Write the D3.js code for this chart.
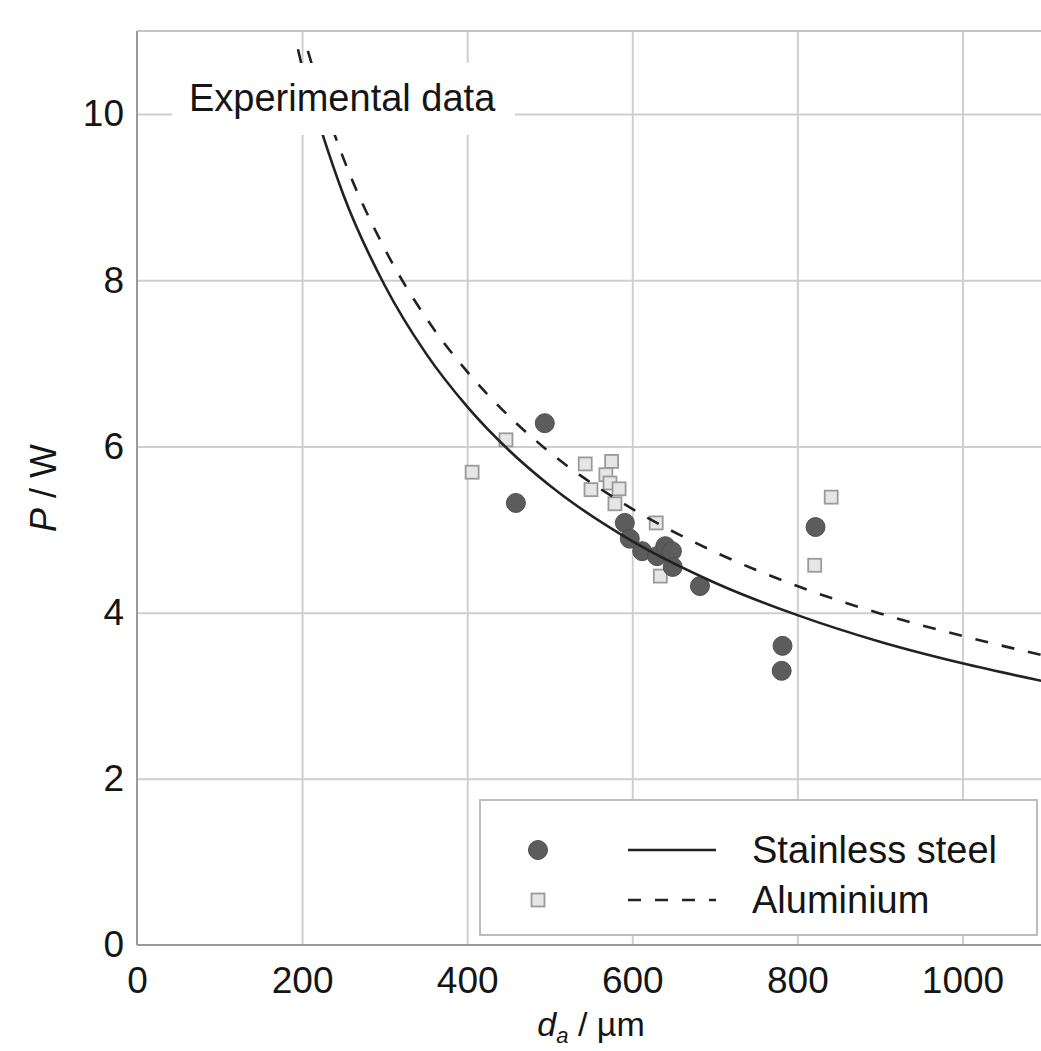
<!DOCTYPE html>
<html><head><meta charset="utf-8">
<script src="https://cdn.jsdelivr.net/npm/d3@7"></script>
<style>
body{margin:0;background:#fff}
svg{display:block}
text{font-family:"Liberation Sans",Arial,Helvetica,sans-serif;fill:#151515}
</style>
</head><body>
<svg id="c" width="1041" height="1051"></svg>
<script>
// ---- data ----
const xTicks = [0, 200, 400, 600, 800, 1000];
const yTicks = [0, 2, 4, 6, 8, 10];

// Stainless steel experimental points (d_a in µm, P in W)
const steelD = [494, 459, 591, 597, 612, 630, 640, 648, 649, 682, 782, 781, 822];
const steelP = [6.28, 5.32, 5.08, 4.89, 4.74, 4.68, 4.80, 4.74, 4.55, 4.32, 3.60, 3.30, 5.03];

// Aluminium experimental points
const aluD = [406, 447, 543, 575, 568, 573, 550, 584, 579, 629, 634, 821, 841];
const aluP = [5.69, 6.08, 5.79, 5.82, 5.66, 5.56, 5.48, 5.49, 5.31, 5.08, 4.44, 4.57, 5.39];

// Model curves
const steelCurveD = [195, 200, 225, 250, 300, 350, 400, 450, 500, 600, 700, 800, 900, 1000, 1100];
const steelCurveP = [10.78, 10.57, 9.75, 9.03, 7.94, 7.12, 6.48, 5.96, 5.53, 4.86, 4.36, 3.97, 3.65, 3.39, 3.17];
const aluCurveD = [207, 225, 250, 300, 350, 400, 450, 500, 600, 700, 800, 900, 1000, 1100];
const aluCurveP = [10.76, 10.17, 9.47, 8.38, 7.55, 6.90, 6.37, 5.93, 5.25, 4.73, 4.32, 3.99, 3.72, 3.48];

const seriesNames = ["Stainless steel", "Aluminium"];

// ---- drawing ----
const svg = d3.select("#c");
const x = d3.scaleLinear().domain([0, 1100]).range([137, 1045]);
const y = d3.scaleLinear().domain([0, 11]).range([945, 31]);
const x0 = x(0), x1 = x(1100), y0 = y(0), yTop = y(11);

const gridColor = "#cfcfcf";

// grid
const gx = svg.append("g").attr("transform", `translate(0,${y0})`)
  .call(d3.axisBottom(x).tickValues(xTicks.filter(d => d > 0)).tickSize(-(y0 - yTop)).tickFormat(""));
gx.select(".domain").remove();
gx.selectAll("line").attr("stroke", gridColor).attr("stroke-width", 2);

const gy = svg.append("g").attr("transform", `translate(${x0},0)`)
  .call(d3.axisLeft(y).tickValues(yTicks.filter(d => d > 0)).tickSize(-(x1 - x0)).tickFormat(""));
gy.select(".domain").remove();
gy.selectAll("line").attr("stroke", gridColor).attr("stroke-width", 2);

// top frame
svg.append("line").attr("x1", x0).attr("x2", x1).attr("y1", yTop).attr("y2", yTop)
  .attr("stroke", "#c4c4c4").attr("stroke-width", 2);

// axes lines
svg.append("line").attr("x1", x0).attr("x2", x0).attr("y1", yTop).attr("y2", y0)
  .attr("stroke", "#999").attr("stroke-width", 2);
svg.append("line").attr("x1", x0).attr("x2", x1).attr("y1", y0).attr("y2", y0)
  .attr("stroke", "#999").attr("stroke-width", 2);

// tick labels via axes
const ax = svg.append("g").attr("transform", `translate(0,${y0})`)
  .call(d3.axisBottom(x).tickValues(xTicks).tickFormat(d3.format("d")).tickSize(0).tickPadding(22));
ax.select(".domain").remove();
ax.selectAll("text").attr("font-size", 37).attr("fill", "#151515")
  .attr("font-family", '"Liberation Sans",Arial,sans-serif');

const ay = svg.append("g").attr("transform", `translate(${x0},0)`)
  .call(d3.axisLeft(y).tickValues(yTicks).tickFormat(d3.format("d")).tickSize(0).tickPadding(13));
ay.select(".domain").remove();
ay.selectAll("text").attr("font-size", 37).attr("fill", "#151515")
  .attr("font-family", '"Liberation Sans",Arial,sans-serif');

// points
const circR = 9.5, sq = 13;
const steelPts = steelD.map((d, i) => ({ d, p: steelP[i] }));
const aluPts = aluD.map((d, i) => ({ d, p: aluP[i] }));

svg.append("g").selectAll("rect").data(aluPts).join("rect")
  .attr("x", d => x(d.d) - sq / 2).attr("y", d => y(d.p) - sq / 2)
  .attr("width", sq).attr("height", sq)
  .attr("fill", "#e6e6e6").attr("stroke", "#9a9a9a").attr("stroke-width", 1.8);

svg.append("g").selectAll("circle").data(steelPts).join("circle")
  .attr("cx", d => x(d.d)).attr("cy", d => y(d.p)).attr("r", circR)
  .attr("fill", "#5c5c5c").attr("stroke", "#505050").attr("stroke-width", 1);

// curves
const line = d3.line().x(d => x(d.d)).y(d => y(d.p)).curve(d3.curveMonotoneX);
const steelCurve = steelCurveD.map((d, i) => ({ d, p: steelCurveP[i] }));
const aluCurve = aluCurveD.map((d, i) => ({ d, p: aluCurveP[i] }));

svg.append("clipPath").attr("id", "pc").append("rect")
  .attr("x", x0).attr("y", yTop).attr("width", x1 - x0).attr("height", y0 - yTop);

svg.append("path").datum(steelCurve).attr("d", line).attr("clip-path", "url(#pc)")
  .attr("fill", "none").attr("stroke", "#222").attr("stroke-width", 2.6);
svg.append("path").datum(aluCurve).attr("d", line).attr("clip-path", "url(#pc)")
  .attr("fill", "none").attr("stroke", "#222").attr("stroke-width", 2.6)
  .attr("stroke-dasharray", "13,14");

// "Experimental data" label with white background
svg.append("rect").attr("x", 172).attr("y", 63).attr("width", 343).attr("height", 72).attr("fill", "#fff");
svg.append("text").attr("x", 189).attr("y", 111).attr("font-size", 38).text("Experimental data");

// axis titles
const yl = svg.append("text").attr("transform", `translate(56,488) rotate(-90)`)
  .attr("text-anchor", "middle").attr("font-size", 36);
yl.append("tspan").attr("font-style", "italic").text("P");
yl.append("tspan").text(" / W");

const xl = svg.append("text").attr("x", x(550)).attr("y", 1036)
  .attr("text-anchor", "middle").attr("font-size", 34);
xl.append("tspan").attr("font-style", "italic").text("d");
xl.append("tspan").attr("font-style", "italic").attr("font-size", 22).attr("dy", 7).text("a");
xl.append("tspan").attr("dy", -7).text(" / µm");

// legend
const lg = svg.append("g");
lg.append("rect").attr("x", 480).attr("y", 800).attr("width", 557).attr("height", 135)
  .attr("fill", "#fff").attr("stroke", "#bdbdbd").attr("stroke-width", 2);
lg.append("circle").attr("cx", 538).attr("cy", 850).attr("r", circR)
  .attr("fill", "#5c5c5c").attr("stroke", "#505050").attr("stroke-width", 1);
lg.append("rect").attr("x", 538 - 6.5).attr("y", 900 - 6.5).attr("width", 13).attr("height", 13)
  .attr("fill", "#e6e6e6").attr("stroke", "#9a9a9a").attr("stroke-width", 1.8);
lg.append("line").attr("x1", 628).attr("x2", 716).attr("y1", 850).attr("y2", 850)
  .attr("stroke", "#222").attr("stroke-width", 2.6);
lg.append("line").attr("x1", 628).attr("x2", 716).attr("y1", 900).attr("y2", 900)
  .attr("stroke", "#222").attr("stroke-width", 2.6).attr("stroke-dasharray", "13,14");
lg.append("text").attr("x", 752).attr("y", 863).attr("font-size", 38).text(seriesNames[0]);
lg.append("text").attr("x", 752).attr("y", 913).attr("font-size", 38).text(seriesNames[1]);
</script>
</body></html>
